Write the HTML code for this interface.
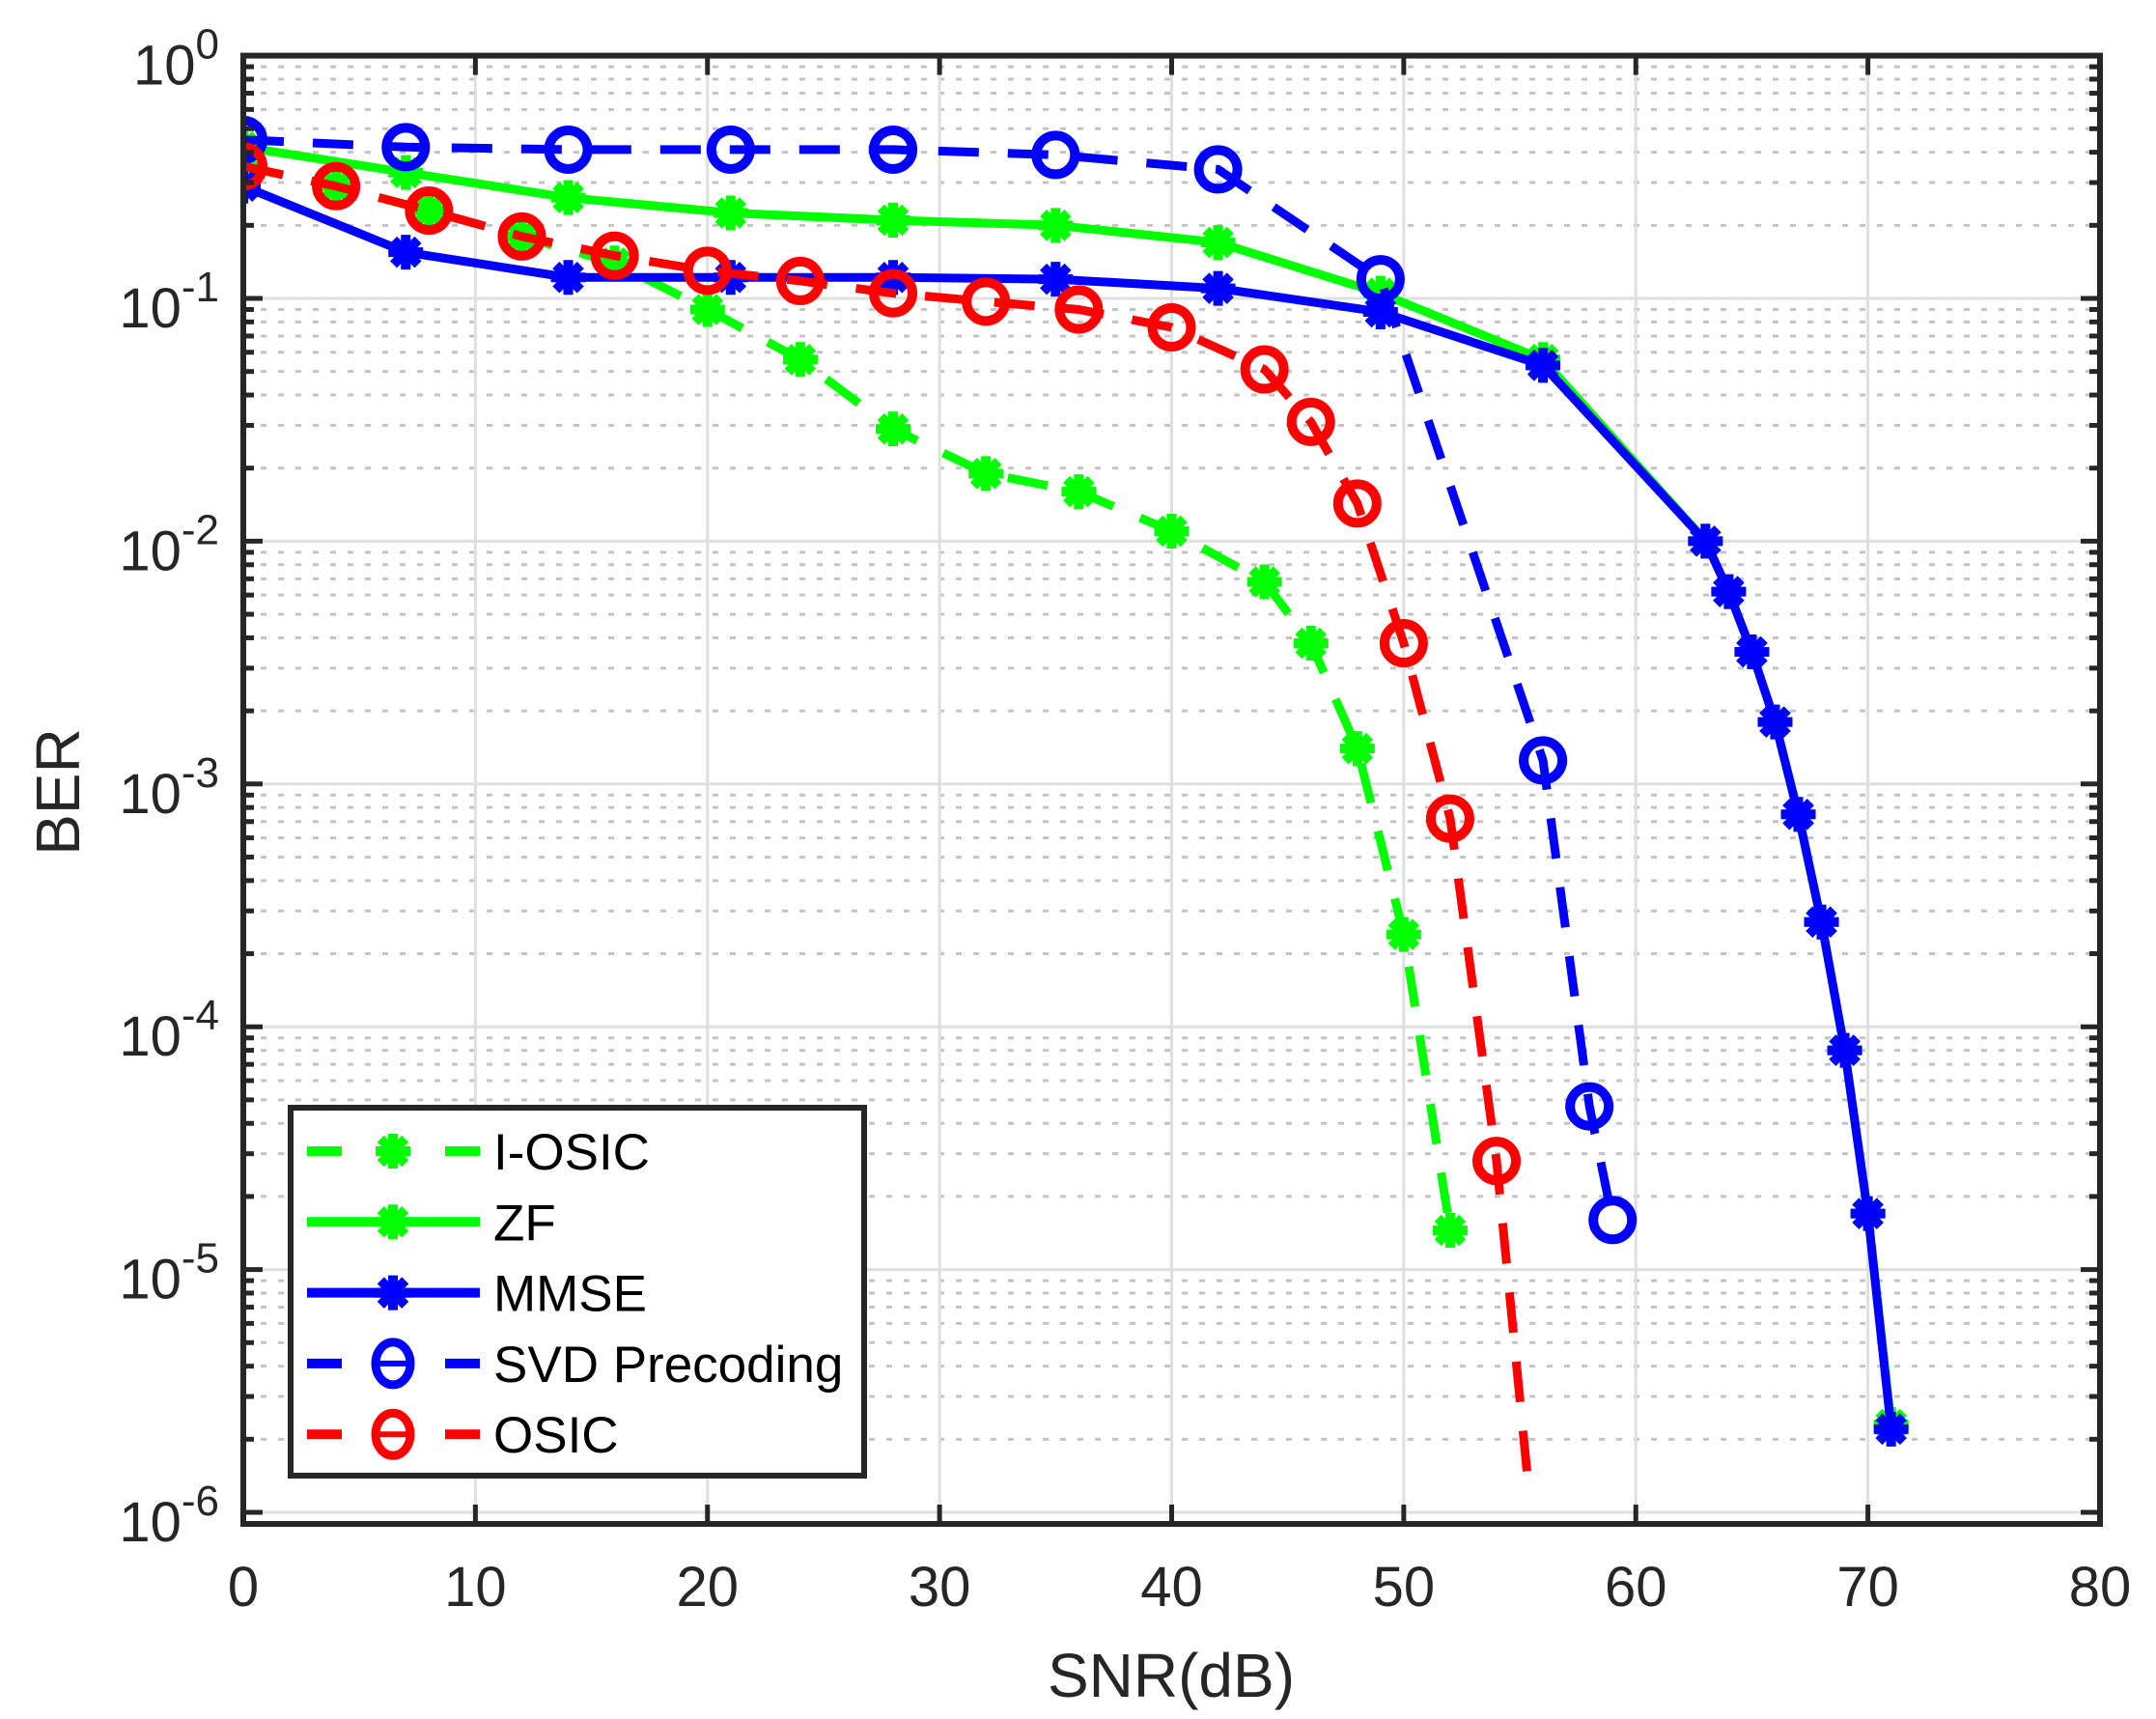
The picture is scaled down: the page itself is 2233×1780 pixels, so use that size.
<!DOCTYPE html>
<html><head><meta charset="utf-8"><style>
html,body{margin:0;padding:0;background:#fff;}
svg{display:block;font-family:"Liberation Sans",Arial,sans-serif;}
</style></head><body>
<svg id="chart" width="2233" height="1780" viewBox="0 0 2233 1780" xmlns="http://www.w3.org/2000/svg">
<rect width="2233" height="1780" fill="#fff"/>
<g id="grid"></g>
<g id="series"></g>
<g id="axes"></g>
<text x="1213" y="1757" font-size="64" text-anchor="middle" fill="#262626">SNR(dB)</text>
<text x="82" y="820" font-size="64" text-anchor="middle" fill="#262626" transform="rotate(-90 82 820)">BER</text>
<g id="legend"></g>
</svg>
<script>
const xTicks=[0,10,20,30,40,50,60,70,80];
const yDecades=[0,-1,-2,-3,-4,-5,-6];
const iosicX=[0,4,8,12,16,20,24,28,32,36,40,44,46,48,50,52];
const iosicY=[0.35,0.29,0.23,0.18,0.14,0.09,0.056,0.029,0.019,0.016,0.011,0.0068,0.0038,0.0014,0.00024,1.45e-5];
const zfX=[0,7,14,21,28,35,42,49,56,63,64,65,66,67,68,69,70,71];
const zfY=[0.42,0.33,0.26,0.225,0.21,0.2,0.17,0.105,0.056,0.01,0.0062,0.0035,0.0018,0.00075,0.00027,8e-5,1.7e-5,2.3e-6];
const mmseX=[0,7,14,21,28,35,42,49,56,63,64,65,66,67,68,69,70,71];
const mmseY=[0.29,0.155,0.122,0.122,0.122,0.12,0.11,0.088,0.053,0.01,0.0062,0.0035,0.0018,0.00075,0.00027,8e-5,1.7e-5,2.2e-6];
const svdX=[0,7,14,21,28,35,42,49,56,58,59];
const svdY=[0.45,0.42,0.41,0.41,0.41,0.39,0.34,0.12,0.00125,4.7e-5,1.6e-5];
const osicX=[0,4,8,12,16,20,24,28,32,36,40,44,46,48,50,52,54,55.4];
const osicY=[0.35,0.29,0.23,0.18,0.15,0.13,0.118,0.105,0.097,0.09,0.076,0.051,0.031,0.0143,0.0038,0.00072,2.8e-5,1.2e-6];
const legendLabels=["I-OSIC","ZF","MMSE","SVD Precoding","OSIC"];

const L=252,R=2175,T=57.6,B=1578,DEC=251.4;
const NS="http://www.w3.org/2000/svg";
function xs(v){return L+(v-0)/80*(R-L);}
function ys(v){return T-Math.log10(v)*DEC;}
function el(tag,attrs,parent){const e=document.createElementNS(NS,tag);for(const k in attrs)e.setAttribute(k,attrs[k]);parent.appendChild(e);return e;}
const grid=document.getElementById('grid'),axes=document.getElementById('axes'),ser=document.getElementById('series'),leg=document.getElementById('legend');

yDecades.forEach(d=>{for(let m=2;m<=9;m++){const y=ys(m*Math.pow(10,d-1));if(y<T||y>B)continue;
 const g=el('line',{x1:L,x2:R,y1:y,y2:y,stroke:'#c4c4c4','stroke-width':3,'stroke-dasharray':'6 12'},grid);
 }});
xTicks.forEach(t=>{const x=xs(t);const g=el('line',{x1:x,x2:x,y1:T,y2:B,stroke:'#dfdfdf','stroke-width':3},grid);
 });
yDecades.forEach(d=>{const y=ys(Math.pow(10,d));const g=el('line',{x1:L,x2:R,y1:y,y2:y,stroke:'#dfdfdf','stroke-width':3},grid);
 });

const clip=el('clipPath',{id:'pc'},ser);el('rect',{x:L,y:T,width:R-L,height:B-T},clip);
function asterisk(g,x,y,c){[[0,1],[1,0],[0.707,0.707],[0.707,-0.707]].forEach(([a,b])=>{
 el('line',{x1:x-a*18,y1:y-b*18,x2:x+a*18,y2:y+b*18,stroke:c,'stroke-width':10},g);});
 el('circle',{cx:x,cy:y,r:11,fill:c},g);}
function circ(g,x,y,c){el('circle',{cx:x,cy:y,r:20,fill:'none',stroke:c,'stroke-width':10},g);}
function drawSeries(X,Y,c,dash,mk,name,skipLast){
 const g=el('g',{'clip-path':'url(#pc)'},ser);
 
 
 const pts=X.map((v,i)=>xs(v).toFixed(1)+','+ys(Y[i]).toFixed(1)).join(' ');
 el('polyline',{points:pts,fill:'none',stroke:c,'stroke-width':9,'stroke-dasharray':dash?'42 30':'none','stroke-linejoin':'round'},g);
 const n=skipLast?X.length-1:X.length;
 for(let i=0;i<n;i++){const m=el('g',{},g);
  
  
  if(mk==='*')asterisk(m,xs(X[i]),ys(Y[i]),c);else circ(m,xs(X[i]),ys(Y[i]),c);}
}
drawSeries(iosicX,iosicY,'#00ff00',true,'*','series-i-osic',false);
drawSeries(zfX,zfY,'#00ff00',false,'*','series-zf',false);
drawSeries(mmseX,mmseY,'#0000ff',false,'*','series-mmse',false);
drawSeries(svdX,svdY,'#0000ff',true,'o','series-svd-precoding',false);
drawSeries(osicX,osicY,'#ff0000',true,'o','series-osic',true);

el('rect',{x:L,y:T,width:R-L,height:B-T,fill:'none',stroke:'#262626','stroke-width':6},axes);
xTicks.forEach(t=>{const x=xs(t);
 el('line',{x1:x,x2:x,y1:B,y2:B-20,stroke:'#262626','stroke-width':5},axes);
 el('line',{x1:x,x2:x,y1:T,y2:T+20,stroke:'#262626','stroke-width':5},axes);
 const tx=el('text',{x:x,y:1663,'font-size':58,'text-anchor':'middle',fill:'#262626'},axes);tx.textContent=t;
 });
yDecades.forEach(d=>{const y=ys(Math.pow(10,d));
 el('line',{x1:L,x2:L+20,y1:y,y2:y,stroke:'#262626','stroke-width':5},axes);
 el('line',{x1:R,x2:R-20,y1:y,y2:y,stroke:'#262626','stroke-width':5},axes);
 for(let m=2;m<=9;m++){const yy=ys(m*Math.pow(10,d-1));if(yy>B)continue;
  el('line',{x1:L,x2:L+11,y1:yy,y2:yy,stroke:'#262626','stroke-width':5},axes);
  el('line',{x1:R,x2:R-11,y1:yy,y2:yy,stroke:'#262626','stroke-width':5},axes);}
 const tx=el('text',{x:227,y:y+30,'font-size':58,'text-anchor':'end',fill:'#262626'},axes);
 
 const base=el('tspan',{},tx);base.textContent='10';
 const ex=el('tspan',{'font-size':44,dy:-27},tx);ex.textContent=String(d);});

el('rect',{x:301,y:1147,width:594,height:381,fill:'#fff',stroke:'#262626','stroke-width':6},leg);
const lc=['#00ff00','#00ff00','#0000ff','#0000ff','#ff0000'],ld=[1,0,0,1,1],lm=['*','*','*','o','o'];
legendLabels.forEach((lab,i)=>{const y=1192+i*73.3;const g=el('g',{},leg);
 
 
 if(ld[i]){el('line',{x1:318,x2:354,y1:y,y2:y,stroke:lc[i],'stroke-width':10},g);el('line',{x1:461,x2:497,y1:y,y2:y,stroke:lc[i],'stroke-width':10},g);}
 else el('line',{x1:318,x2:497,y1:y,y2:y,stroke:lc[i],'stroke-width':10},g);
 if(lm[i]==='*')asterisk(g,407,y,lc[i]);else{el('ellipse',{cx:407,cy:y,rx:18,ry:22,fill:'none',stroke:lc[i],'stroke-width':9},g);el('line',{x1:393,x2:421,y1:y,y2:y,stroke:lc[i],'stroke-width':6},g);}
 const t=el('text',{x:511,y:y+19,'font-size':53,fill:'#000'},g);t.textContent=lab;});
</script>
</body></html>
